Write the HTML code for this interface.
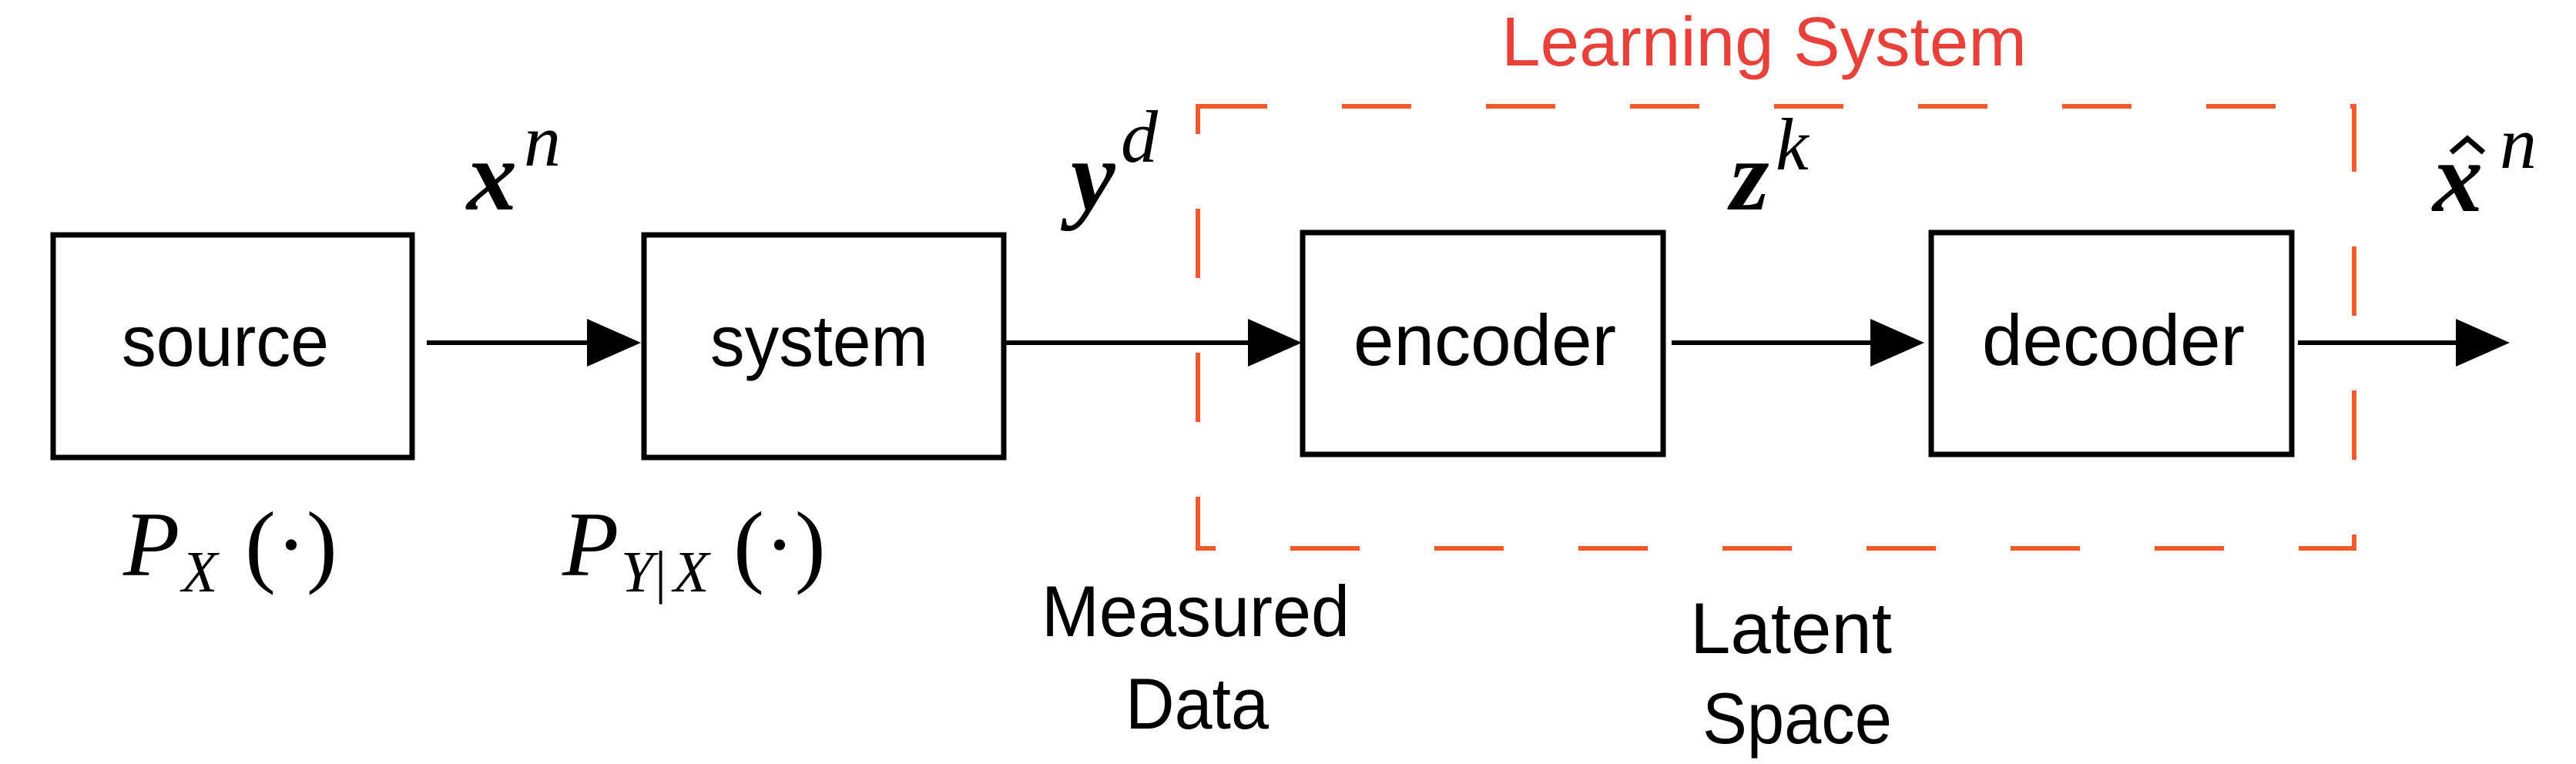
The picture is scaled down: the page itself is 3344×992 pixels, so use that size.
<!DOCTYPE html>
<html><head><meta charset="utf-8"><style>html,body{margin:0;padding:0;background:#fff}svg{display:block}</style></head>
<body>
<svg width="3344" height="992" viewBox="0 0 3344 992" xmlns="http://www.w3.org/2000/svg">
<rect width="3344" height="992" fill="#fff"/>
<g fill="none" stroke="#000" stroke-width="7">
<rect x="69" y="305" width="466" height="289"/>
<rect x="836" y="305" width="467" height="289"/>
<rect x="1691" y="302" width="468" height="288"/>
<rect x="2507" y="302" width="468" height="288"/>
</g>
<g stroke="#000" stroke-width="6">
<line x1="554" y1="445" x2="780" y2="445"/>
<line x1="1306" y1="445" x2="1640" y2="445"/>
<line x1="2170" y1="445" x2="2450" y2="445"/>
<line x1="2983" y1="445" x2="3210" y2="445"/>
</g>
<g fill="#000">
<polygon points="762,414 832,445 762,476"/>
<polygon points="1620,414 1690,445 1620,476"/>
<polygon points="2428,414 2498,445 2428,476"/>
<polygon points="3188,414 3258,445 3188,476"/>
</g>
<rect x="1555" y="138" width="1501" height="574" fill="none" stroke="#f15a2b" stroke-width="6" stroke-dasharray="90 97"/>
<text x="1949" y="85" font-family="Liberation Sans, sans-serif" font-size="90" fill="#e8413a" textLength="682" lengthAdjust="spacingAndGlyphs">Learning System</text>
<g font-family="Liberation Sans, sans-serif" font-size="94" fill="#000">
<text x="158" y="475" textLength="269" lengthAdjust="spacingAndGlyphs">source</text>
<text x="922" y="475" textLength="283" lengthAdjust="spacingAndGlyphs">system</text>
<text x="1757" y="474" textLength="341" lengthAdjust="spacingAndGlyphs">encoder</text>
<text x="2573" y="474" textLength="341" lengthAdjust="spacingAndGlyphs">decoder</text>
<text x="1352" y="826" textLength="400" lengthAdjust="spacingAndGlyphs">Measured</text>
<text x="1461" y="946" textLength="186" lengthAdjust="spacingAndGlyphs">Data</text>
<text x="2194" y="848" textLength="262" lengthAdjust="spacingAndGlyphs">Latent</text>
<text x="2210" y="965" textLength="246" lengthAdjust="spacingAndGlyphs">Space</text>
</g>
<g font-family="Liberation Serif, serif" font-style="italic" fill="#000">
<text x="606" y="272" font-size="130" font-weight="bold">x</text>
<text x="680" y="215" font-size="96">n</text>
<text x="1390" y="272" font-size="130" font-weight="bold">y</text>
<text x="1455" y="210" font-size="96">d</text>
<text x="2246" y="272" font-size="130" font-weight="bold">z</text>
<text x="2305" y="220" font-size="96">k</text>
<text x="3158" y="274" font-size="130" font-weight="bold">x</text>
<text x="3245" y="218" font-size="96">n</text>
<text x="160" y="747" font-size="120">P</text>
<text x="236" y="768" font-size="76">X</text>
<text x="318" y="747" font-size="120" font-style="normal">(·)</text>
<text x="730" y="747" font-size="120">P</text>
<text x="806" y="768" font-size="76">Y</text>
<text x="850" y="768" font-size="76" font-style="normal">|</text>
<text x="874" y="768" font-size="76">X</text>
<text x="952" y="747" font-size="120" font-style="normal">(·)</text>
</g>
<polyline points="3182,198 3203,180 3224,198" fill="none" stroke="#000" stroke-width="7"/>
</svg>
</body></html>
